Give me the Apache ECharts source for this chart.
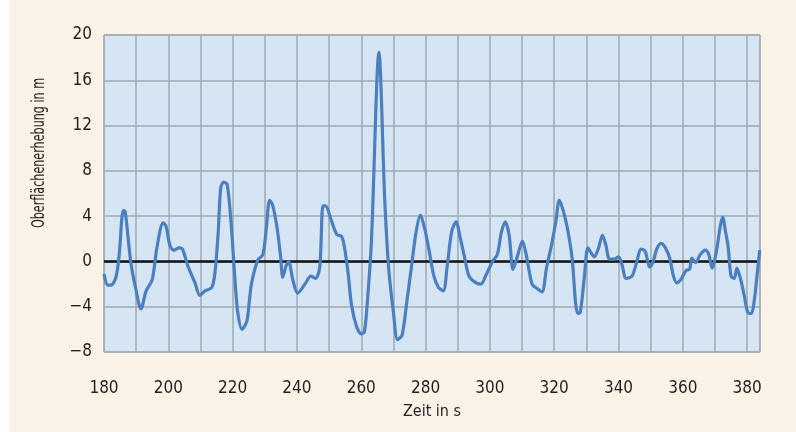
<!DOCTYPE html>
<html>
<head>
<meta charset="utf-8">
<script src="https://cdn.jsdelivr.net/npm/echarts@6/dist/echarts.min.js"></script>
<style>
html,body{margin:0;padding:0;background:#ffffff;}
#c{width:796px;height:432px;}
</style>
</head>
<body>
<div id="c"></div>
<script>
// Zeit in s
const times = [180,181.2,182.2,183.7,184.7,186.0,186.6,188.3,189.8,191.5,193.1,195.0,196.5,198.4,199.3,200.5,201.7,203.4,204.4,206.1,208.3,209.8,211.4,213.5,214.5,215.5,216.3,217.2,218.3,219.5,220.7,221.6,222.9,224.4,225.2,225.9,227.8,229.4,230.5,231.5,232.4,233.7,234.9,235.6,236.6,237.4,238.7,240.2,242.5,244.3,245.8,247.1,248.1,248.9,250.7,252.4,253.9,254.8,255.9,257.0,258.6,260.0,261.0,262.1,263.2,265.5,267.3,268.5,270.0,271.3,272.7,274.2,275.6,277.0,278.4,279.8,281.2,282.6,284.0,285.5,286.7,288.1,289.5,290.7,292.1,293.5,295.2,297.2,298.8,300.8,302.3,303.6,304.8,306.0,307.2,308.7,310.1,311.3,313.1,314.7,316.2,317.6,319.2,320.5,321.6,322.8,324.2,325.6,326.6,327.3,328.1,329.3,330.5,331.6,332.5,333.7,335.0,336.1,337.2,338.7,340.0,341.0,342.4,344.2,345.7,347.0,348.3,349.7,350.8,351.9,353.2,354.6,355.9,357.1,358.1,359.4,361.0,362.1,362.8,364.0,365.4,367.0,368.1,369.1,370.5,371.7,372.4,373.3,374.1,375.0,376.0,376.8,377.9,379.1,380.2,381.3,382.2,383.1,383.9];
// Oberflächenerhebung in m
const elevation = [-1.1,-2.1,-2.1,-1.4,0.5,4.5,4.4,0,-2.3,-4.2,-2.6,-1.6,1.3,3.4,3.1,1.4,1.0,1.2,1.1,-0.4,-1.9,-3.0,-2.6,-2.3,-1.0,2.5,6.5,7.0,6.8,3.5,-1.5,-4.5,-6.0,-5.3,-3.5,-1.9,0.1,0.6,3,5.4,5.0,3.2,0.5,-1.4,-0.4,0,-1.6,-2.8,-2.0,-1.3,-1.5,-0.5,4.9,4.9,3.6,2.4,2.2,1.2,-1.0,-3.9,-5.8,-6.4,-6.2,-2.8,2,18.5,5.5,-0.5,-4.5,-6.9,-6.5,-3.5,-0.5,2.5,4.1,2.8,0.8,-1.3,-2.3,-2.6,-0.5,2.6,3.5,2.2,0.4,-1.3,-1.8,-2.0,-1.2,0,0.6,2.6,3.5,2.3,-0.7,0.6,1.8,0.6,-2.0,-2.4,-2.7,-0.6,1.5,3.5,5.4,4.5,2.8,0.2,-3.5,-4.6,-4.5,-1.6,1.2,0.7,0.4,1.1,2.3,1.4,0.2,0.2,0.4,-0.2,-1.5,-1.3,0,1.1,0.9,-0.5,0,1.1,1.6,1.2,0.3,-1.3,-1.9,-1.6,-0.8,-0.7,0.3,-0.1,0.6,1.0,0.6,-0.6,1.0,3.2,3.9,2.6,1.3,-1.3,-1.5,-0.6,-1.5,-3.0,-4.5,-4.6,-3.5,-1.2,1.0];
const xTicks = [180,200,220,240,260,280,300,320,340,360,380];
const yTicks = [-8,-4,0,4,8,12,16,20];

const FONT = "'DejaVu Sans Condensed','Liberation Sans Narrow',sans-serif";
const chart = echarts.init(document.getElementById('c'), null, {renderer:'canvas'});
chart.setOption({
  animation:false,
  backgroundColor:'#fbf2e7',
  graphic:[
    {type:'rect', left:0, top:0, shape:{width:9,height:432}, style:{fill:'#ffffff'}},
    {type:'text', x:40, y:153, rotation:Math.PI/2, scaleX:0.73,
     style:{text:'Oberflächenerhebung in m', font:"17px "+FONT, fill:'#231f20', align:'center', verticalAlign:'middle'}}
  ],
  grid:{left:104, right:36, top:35, bottom:80, show:true, backgroundColor:'#d5e5f4', borderColor:'#a9b3bd', borderWidth:1},
  xAxis:{type:'value', min:180, max:384, interval:10,
    name:'Zeit in s', nameLocation:'middle', nameGap:52,
    nameTextStyle:{fontFamily:FONT, fontSize:16, color:'#231f20'},
    axisLine:{show:false}, axisTick:{show:false},
    splitLine:{show:true, lineStyle:{color:'#9ea8b2', width:1.5}},
    axisLabel:{margin:28, fontFamily:FONT, fontSize:17, color:'#231f20',
      formatter:v=> xTicks.includes(v) ? String(v) : ''}
  },
  yAxis:{type:'value', min:-8, max:20, interval:4,
    axisLine:{show:false}, axisTick:{show:false},
    splitLine:{show:true, lineStyle:{color:'#9ea8b2', width:1.5}},
    axisLabel:{margin:12, fontFamily:FONT, fontSize:17, color:'#231f20',
      formatter:v=> yTicks.includes(v) ? String(v).replace('-', '\u2212') : ''}
  },
  series:[{
    type:'line',
    data:times.map((t,i)=>[t,elevation[i]]),
    showSymbol:false,
    smooth:0.3,
    lineStyle:{color:'#4c7fbf', width:3.2},
    z:3,
    markLine:{silent:true, symbol:'none', label:{show:false},
      lineStyle:{color:'#111111', width:2.5, type:'solid'},
      data:[{yAxis:0}], z:2}
  }]
});
</script>
</body>
</html>
